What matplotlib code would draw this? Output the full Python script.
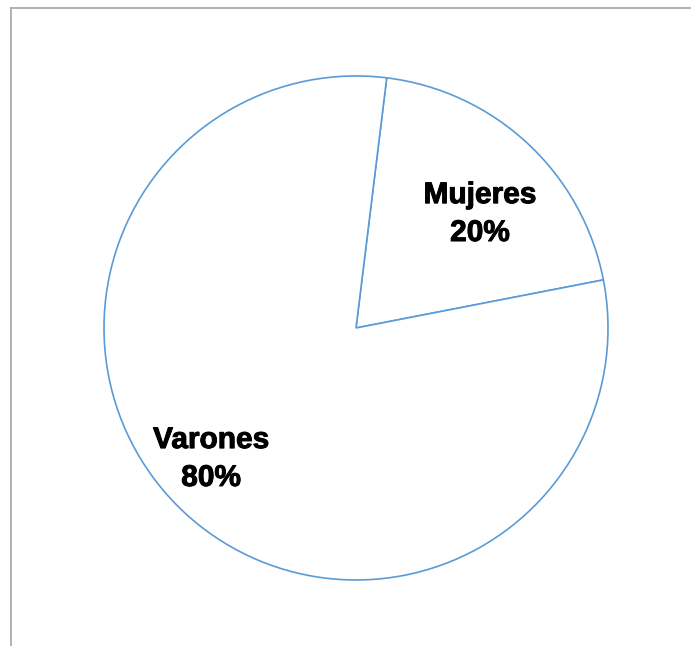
import matplotlib.pyplot as plt
import matplotlib.patheffects as pe

labels = ['Mujeres', 'Varones']
shares = [20, 80]


def plot_pie(filename):
    fig = plt.figure(figsize=(6.91, 6.46), dpi=100)
    ax = fig.add_axes([0.1505, 0.1022, 0.7294, 0.7802])

    wedges, _ = ax.pie(shares, startangle=83, counterclock=False,
                       colors=['white', 'white'],
                       wedgeprops=dict(edgecolor='#5B9BD5', linewidth=1.2))
    ax.set_xlim(-1, 1)
    ax.set_ylim(-1, 1)
    ax.set_aspect('equal')

    # label positions inside each slice
    label_pos = [(0.492, 0.452), (-0.575, -0.52)]
    for name, val, (x, y) in zip(labels, shares, label_pos):
        ax.text(x, y, f"{name}\n{val}%", ha='center', va='center',
                fontsize=21.5, fontweight='bold', family='Liberation Sans',
                linespacing=1.45, color='black',
                path_effects=[pe.withStroke(linewidth=0.7, foreground='black')])

    # chart frame (left and top edges visible)
    fig.add_artist(plt.Line2D([11 / 691, 11 / 691], [0, 1 - 8 / 646],
                              color='#A6A6A6', linewidth=1.2))
    fig.add_artist(plt.Line2D([11 / 691, 1], [1 - 8 / 646, 1 - 8 / 646],
                              color='#A6A6A6', linewidth=1.2))

    fig.savefig(filename, dpi=100)
    plt.close(fig)


def main():
    plot_pie("out.png")


if __name__ == "__main__":
    main()
